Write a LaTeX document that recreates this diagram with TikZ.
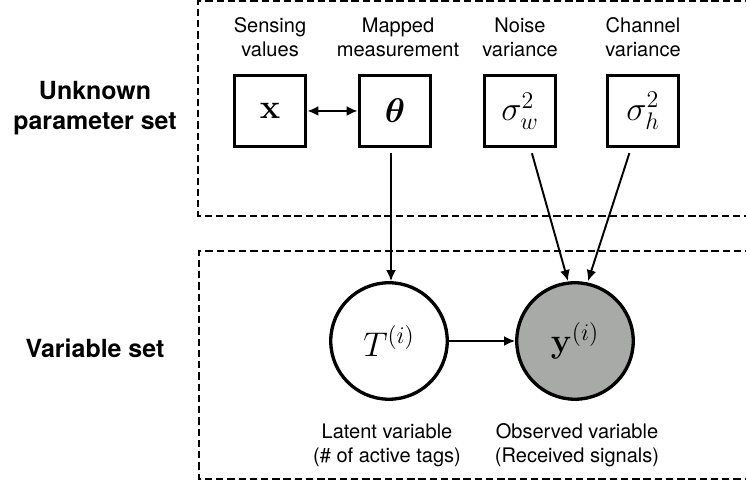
\documentclass[tikz,border=0pt]{standalone}
\usepackage{fix-cm}
\usepackage{amsmath}
\usepackage{amssymb}
\usepackage{bm}
\usepackage[no-math]{fontspec}
\setmainfont{TeX Gyre Heros}
\usepackage{tikz}
\usetikzlibrary{arrows.meta, positioning}
\usepackage{xcolor}
\definecolor{obsgray}{RGB}{168,170,168}

\begin{document}
\begin{tikzpicture}[
    >={Latex[length=2.2mm, width=2mm]},
    param/.style={draw, line width=2.2pt, minimum size=1.42cm, inner sep=0pt,
      font=\fontsize{19.5}{23}\selectfont},
    var/.style={circle, draw, line width=1.9pt, minimum size=2.33cm, inner sep=0pt,
      font=\fontsize{19.5}{23}\selectfont},
    lbl/.style={align=center, inner sep=0pt, font=\fontsize{11.4}{13.7}\selectfont},
    setlbl/.style={align=center, inner sep=0pt, font=\bfseries\fontsize{14.2}{17}\selectfont},
    group/.style={dashed, line width=1.1pt, dash pattern=on 4.2pt off 2.2pt},
    link/.style={->, line width=1.1pt},
  ]

  \useasboundingbox (0,0) rectangle (14.92,9.68);
  \clip (0,0) rectangle (14.92,9.68);

  \def\py{7.46} \def\vy{2.86}

  % --- dashed groups ---
  \draw[group] (15.5,9.66) -- (3.96,9.66) -- (3.96,5.36) -- (15.5,5.36);
  \draw[group] (15.5,4.66) -- (3.98,4.66) -- (3.98,0.10) -- (15.5,0.10);

  % --- group labels ---
  \node[setlbl] (lpar) at (1.90,7.52) {Unknown\\parameter set};
  \node[setlbl] (lvar) at (1.90,2.72) {Variable set};

  % --- parameters ---
  \node[param] (x) at (5.40,\py) {$\mathbf{x}$};
  \node[param] (theta) at (7.90,\py) {$\bm{\theta}$};
  \node[param] (sw) at (10.40,\py) {$\sigma_w^2$};
  \node[param] (sh) at (12.86,\py) {$\sigma_h^2$};

  \node[lbl] (lx) at (5.40,8.94) {Sensing\\values};
  \node[lbl] (ltheta) at (7.96,8.94) {Mapped\\measurement};
  \node[lbl] (lsw) at (10.40,8.94) {Noise\\variance};
  \node[lbl] (lsh) at (12.86,8.94) {Channel\\variance};

  % --- variables ---
  \node[var] (T) at (7.78,\vy) {$T^{(i)}$};
  \node[var, fill=obsgray] (y) at (11.50,\vy) {$\mathbf{y}^{(i)}$};

  \node[lbl] (lT) at (7.74,0.78) {Latent variable\\(\# of active tags)};
  \node[lbl] (ly) at (11.54,0.78) {Observed variable\\(Received signals)};

  % --- connectors ---
  \draw[<->, line width=1.1pt] (x) -- (theta);
  \draw[link, shorten <=1mm] (theta.south -| 7.82,0) -- (T.north -| 7.82,0);
  \draw[link, shorten <=1mm] (sw) -- (y.north -| 11.36,0);
  \draw[link, shorten <=1mm] (sh) -- (y.north -| 11.76,0);
  \draw[link] (T) -- (y);

\end{tikzpicture}
\end{document}
